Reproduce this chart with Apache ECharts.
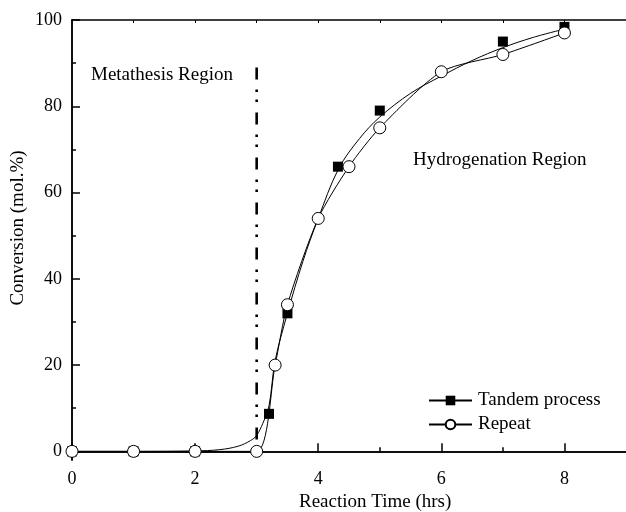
<!DOCTYPE html>
<html><head><meta charset="utf-8">
<script src="https://cdn.jsdelivr.net/npm/echarts@6/dist/echarts.min.js"></script>
<style>html,body{margin:0;padding:0;background:#fff}#c{width:626px;height:512px}</style>
</head><body><div id="c"></div>
<script>
const xLabelValues = [0, 2, 4, 6, 8];
const xMinorValues = [1, 3, 5, 7];
const yLabelValues = [0, 20, 40, 60, 80, 100];
const yMinorValues = [10, 30, 50, 70, 90];

const tandemX = [0, 1, 2, 3.2, 3.5, 4.32, 5, 7, 8];
const tandemY = [0, 0, 0, 8.7, 32, 66, 79, 95, 98.4];

const tandemFitX = [0, 1, 2, 2.4, 2.7, 2.9, 3.0, 3.1, 3.2, 3.3, 3.5, 3.75, 4.0, 4.33, 4.67, 5.0, 5.5, 6.0, 6.5, 7.0, 7.5, 8.0];
const tandemFitY = [0, 0, 0.1, 0.4, 1.2, 2.5, 3.7, 6.5, 10.5, 21, 32, 44, 54, 65.5, 72.5, 77.5, 83, 87, 90.6, 93.6, 96, 97.9];

const repeatX = [0, 1, 2, 3, 3.3, 3.5, 4, 4.5, 5, 6, 7, 8];
const repeatY = [0, 0, 0, 0, 20, 34, 54, 66, 75, 88, 92, 97];

const boundaryX = [3, 3];
const boundaryY = [89, 0];

const zip = (xs, ys) => xs.map((x, i) => [x, ys[i]]);
const FONT = '"Liberation Serif", "Times New Roman", serif';

const chart = echarts.init(document.getElementById('c'), null, {renderer: 'canvas'});
const axisBase = {
  type: 'value', min: 0, max: 9,
  axisLine: {show: true, lineStyle: {color: '#000', width: 1.5}},
  splitLine: {show: false}
};
chart.setOption({
  animation: false,
  backgroundColor: '#fff',
  grid: {left: 72, top: 20, width: 559, height: 440},
  xAxis: [
    Object.assign({}, axisBase, {
      position: 'bottom',
      axisTick: {show: true, inside: true, length: 8, lineStyle: {color: '#000', width: 1.5}, customValues: xLabelValues},
      axisLabel: {show: true, customValues: xLabelValues, color: '#000', fontFamily: FONT, fontSize: 18, margin: 10}
    }),
    Object.assign({}, axisBase, {
      position: 'bottom',
      axisTick: {show: true, inside: true, length: 4, lineStyle: {color: '#000', width: 1.5}, customValues: xMinorValues},
      axisLabel: {show: false}
    }),
    Object.assign({}, axisBase, {
      position: 'top',
      axisTick: {show: true, inside: true, length: 3, lineStyle: {color: '#000', width: 1}, customValues: [1,2,3,4,5,6,7,8]},
      axisLabel: {show: false}
    })
  ],
  yAxis: [
    {
      type: 'value', min: -2, max: 100,
      axisLine: {show: true, lineStyle: {color: '#000', width: 1.5}},
      splitLine: {show: false},
      axisTick: {show: true, inside: true, length: 8, lineStyle: {color: '#000', width: 1.5}, customValues: yLabelValues},
      axisLabel: {show: true, customValues: yLabelValues, color: '#000', fontFamily: FONT, fontSize: 18, margin: 10}
    },
    {
      type: 'value', min: -2, max: 100, position: 'left',
      axisLine: {show: true, lineStyle: {color: '#000', width: 1.5}},
      splitLine: {show: false},
      axisTick: {show: true, inside: true, length: 4, lineStyle: {color: '#000', width: 1.5}, customValues: yMinorValues},
      axisLabel: {show: false}
    }
  ],
  legend: {
    orient: 'vertical', left: 423, top: 386, itemGap: 5,
    itemWidth: 43, itemHeight: 12,
    textStyle: {color: '#000', fontFamily: FONT, fontSize: 19, padding: [0, 0, 0, 1]},
    data: ['Tandem process', 'Repeat']
  },
  graphic: [
    {type: 'text', left: 91, top: 66, style: {text: 'Metathesis Region', font: '19px ' + FONT, fill: '#000'}},
    {type: 'text', left: 413, top: 151, style: {text: 'Hydrogenation Region', font: '19px ' + FONT, fill: '#000'}},
    {type: 'text', left: 299, top: 493, style: {text: 'Reaction Time (hrs)', font: '19px ' + FONT, fill: '#000'}},
    {type: 'text', x: 9, y: 228, rotation: Math.PI / 2, style: {text: 'Conversion (mol.%)', font: '19px ' + FONT, fill: '#000', align: 'center', verticalAlign: 'top'}}
  ],
  series: [
    {
      type: 'line', name: 'boundary', data: zip(boundaryX, boundaryY),
      symbol: 'none', silent: true,
      lineStyle: {color: '#000', width: 2.6, type: [12, 10, 2.5, 7.5, 2.5, 10.5], cap: 'butt'}, z: 1
    },
    {
      type: 'line', name: 'Tandem process', data: zip(tandemFitX, tandemFitY),
      symbol: 'rect', symbolSize: 10, showSymbol: false, smooth: 0.35,
      itemStyle: {color: '#000', opacity: 1},
      lineStyle: {color: '#000', width: 1}, z: 2
    },
    {
      type: 'scatter', name: 'Tandem process', data: zip(tandemX, tandemY),
      symbol: 'rect', symbolSize: 10, itemStyle: {color: '#000', opacity: 1}, z: 3
    },
    {
      type: 'line', name: 'Repeat', data: zip(repeatX, repeatY),
      symbol: 'circle', symbolSize: 12, showSymbol: true, smooth: 0.25,
      itemStyle: {color: '#fff', borderColor: '#000', borderWidth: 1},
      lineStyle: {color: '#000', width: 1}, z: 4
    }
  ]
});
</script></body></html>
